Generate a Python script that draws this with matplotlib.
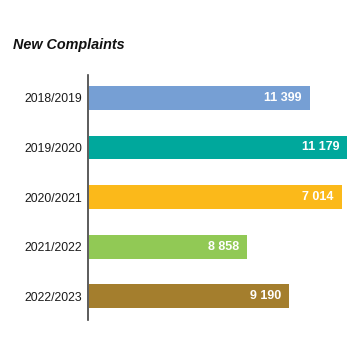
import matplotlib.pyplot as plt

# data
years = ['2018/2019', '2019/2020', '2020/2021', '2021/2022', '2022/2023']
complaints = [11399, 11179, 7014, 8858, 9190]
# bar lengths as drawn in the original (not proportional to the labels)
bar_len = [221, 258, 253, 158, 200]
colors = ['#769fd4', '#00a89c', '#fbb91a', '#91c955', '#a47e2d']

plt.rcParams['font.family'] = ['Liberation Sans', 'DejaVu Sans']

fig = plt.figure(figsize=(3.61, 3.61), dpi=100)
ax = fig.add_axes([88 / 361, 1 - 320 / 361, 273 / 361, 245 / 361])

pos = range(len(years))
bars = ax.barh(pos, bar_len, height=0.48, color=colors, left=1)
ax.set_xlim(0, 273)
ax.set_ylim(4.48, -0.46)

for b, v in zip(bars, complaints):
    label = f'{v:,}'.replace(',', ' ')
    ax.text(b.get_x() + b.get_width() - 8, b.get_y() + b.get_height() / 2, label,
            ha='right', va='center', color='white', fontweight='bold', fontsize=9)

ax.set_yticks(list(pos))
ax.set_yticklabels(years, fontsize=8.8, color='#1a1a1a')
ax.tick_params(axis='y', length=0, pad=4)
ax.set_xticks([])
for s in ['top', 'right', 'bottom']:
    ax.spines[s].set_visible(False)
ax.spines['left'].set_color('#404040')
ax.spines['left'].set_linewidth(1.2)

fig.text(13 / 361, 1 - 45 / 361, 'New Complaints', fontsize=10.4, fontweight='bold',
         fontstyle='italic', va='center', ha='left', color='#111111')

fig.savefig('out.png', dpi=100)
